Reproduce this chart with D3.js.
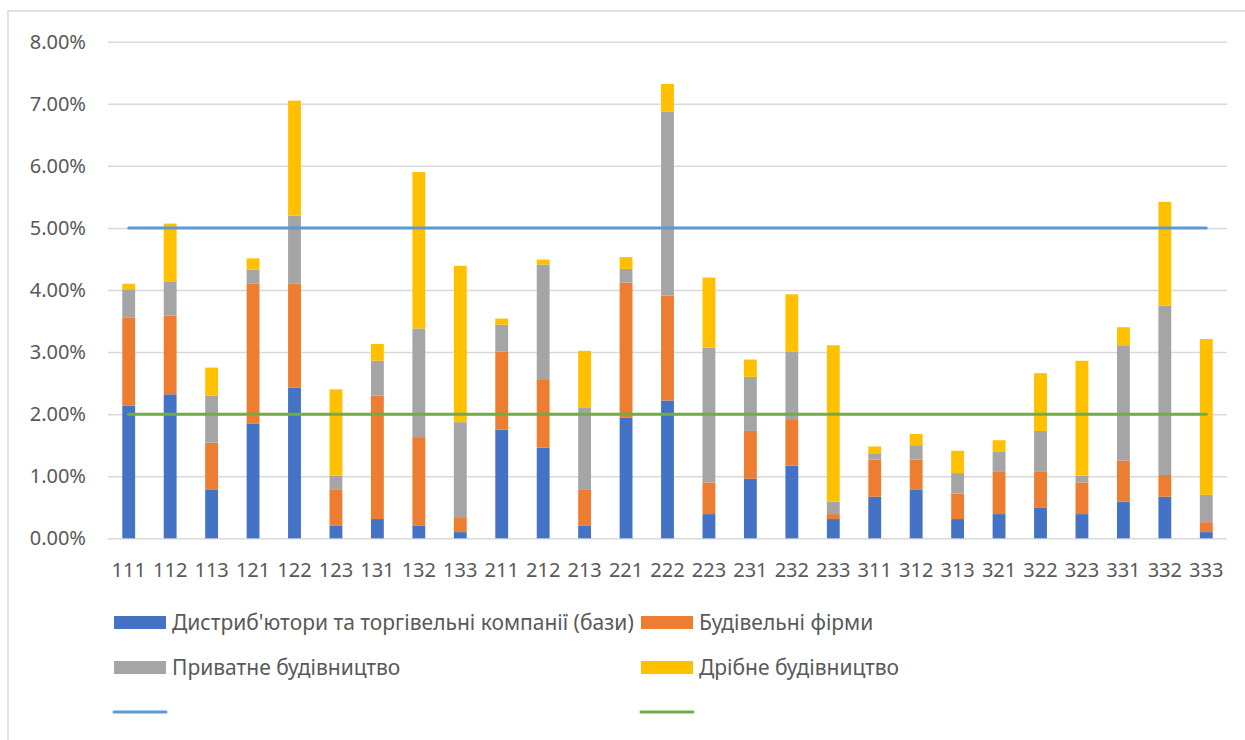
<!DOCTYPE html>
<html>
<head>
<meta charset="utf-8">
<script src="https://cdn.jsdelivr.net/npm/d3@7"></script>
<style>
  html, body { margin: 0; padding: 0; background: #fff; }
  svg { display: block; }
  text { font-family: "Noto Sans", "Liberation Sans", sans-serif; fill: #595959; }
</style>
</head>
<body>
<svg id="chart" width="1245" height="740"></svg>
<script>
// Segment codes along the horizontal axis
const categories = ["111","112","113","121","122","123","131","132","133","211","212","213","221","222","223","231","232","233","311","312","313","321","322","323","331","332","333"];

// Stacked shares, in percent
const distributors = [2.14, 2.32, 0.78, 1.85, 2.43, 0.20, 0.31, 0.20, 0.10, 1.75, 1.46, 0.20, 1.94, 2.22, 0.39, 0.96, 1.17, 0.31, 0.67, 0.78, 0.31, 0.39, 0.49, 0.39, 0.59, 0.67, 0.10];
const firms        = [1.42, 1.27, 0.76, 2.25, 1.67, 0.58, 1.99, 1.43, 0.24, 1.26, 1.09, 0.58, 2.18, 1.69, 0.51, 0.77, 0.75, 0.08, 0.60, 0.49, 0.41, 0.68, 0.58, 0.51, 0.66, 0.35, 0.16];
const privateBuild = [0.44, 0.55, 0.76, 0.23, 1.10, 0.23, 0.56, 1.75, 1.53, 0.43, 1.86, 1.32, 0.22, 2.96, 2.17, 0.87, 1.09, 0.20, 0.10, 0.23, 0.33, 0.33, 0.66, 0.11, 1.86, 2.73, 0.44];
const smallBuild   = [0.10, 0.93, 0.45, 0.18, 1.85, 1.39, 0.27, 2.52, 2.52, 0.10, 0.08, 0.92, 0.19, 0.45, 1.13, 0.28, 0.92, 2.52, 0.11, 0.18, 0.36, 0.18, 0.93, 1.85, 0.29, 1.67, 2.51];

// Horizontal threshold lines (percent)
const upperLevel = [5.0];
const lowerLevel = [2.0];

// Y axis tick values (percent)
const yTicks = [0, 1, 2, 3, 4, 5, 6, 7, 8];

const seriesNames = [
  "Дистриб'ютори та торгівельні компанії (бази)",
  "Будівельні фірми",
  "Приватне будівництво",
  "Дрібне будівництво"
];
const seriesColors = ["#4472C4", "#ED7D31", "#A5A5A5", "#FFC000"];
const seriesKeys = ["d", "f", "p", "s"];

const table = categories.map((c, i) => ({
  cat: c, d: distributors[i], f: firms[i], p: privateBuild[i], s: smallBuild[i]
}));

const svg = d3.select("#chart");

// Outer chart frame
svg.append("rect")
  .attr("x", 8).attr("y", 11)
  .attr("width", 1260).attr("height", 760)
  .attr("fill", "none").attr("stroke", "#d9d9d9").attr("stroke-width", 1.5);

const plot = { left: 108, right: 1227, top: 41.7, bottom: 538.3 };

const x = d3.scaleBand().domain(categories).range([plot.left, plot.right]).paddingInner(0).paddingOuter(0);
const y = d3.scaleLinear().domain([0, 8]).range([plot.bottom, plot.top]);

// Gridlines + Y labels
const yAxis = d3.axisLeft(y)
  .tickValues(yTicks)
  .tickFormat(d => d.toFixed(2) + "%")
  .tickSize(-(plot.right - plot.left))
  .tickPadding(22);
const gy = svg.append("g").attr("transform", `translate(${plot.left},0)`).call(yAxis);
gy.select(".domain").remove();
gy.selectAll(".tick line").attr("stroke", "#d9d9d9").attr("stroke-width", 1.5);
gy.selectAll(".tick text").attr("font-size", 20).attr("fill", "#595959")
  .style("font-family", "'Noto Sans', sans-serif");

// X labels
const xAxis = d3.axisBottom(x).tickSize(0).tickPadding(25);
const gx = svg.append("g").attr("transform", `translate(0,${plot.bottom})`).call(xAxis);
gx.select(".domain").remove();
gx.selectAll(".tick text").attr("font-size", 20).attr("fill", "#595959")
  .style("font-family", "'Noto Sans', sans-serif");

// Stacked bars
const stack = d3.stack().keys(seriesKeys);
const layers = stack(table);
const barW = x.bandwidth() * 0.31;

svg.append("g").selectAll("g")
  .data(layers)
  .join("g")
  .attr("fill", (d, i) => seriesColors[i])
  .selectAll("rect")
  .data(d => d)
  .join("rect")
  .attr("x", d => x(d.data.cat) + x.bandwidth() / 2 - barW / 2)
  .attr("width", barW)
  .attr("y", d => y(d[1]))
  .attr("height", d => y(d[0]) - y(d[1]));

// Threshold lines from first to last category centre
const xFirst = x(categories[0]) + x.bandwidth() / 2;
const xLast = x(categories[categories.length - 1]) + x.bandwidth() / 2;
const lineGen = d3.line().x(d => d[0]).y(d => y(d[1]));
[[upperLevel[0], "#5B9BD5"], [lowerLevel[0], "#70AD47"]].forEach(([v, c]) => {
  svg.append("path")
    .attr("d", lineGen([[xFirst, v], [xLast, v]]))
    .attr("fill", "none").attr("stroke", c)
    .attr("stroke-width", 3).attr("stroke-linecap", "round");
});

// Legend
const legend = svg.append("g");
const legendItems = [
  { x: 114, y: 616, i: 0 },
  { x: 641, y: 616, i: 1 },
  { x: 114, y: 661, i: 2 },
  { x: 641, y: 661, i: 3 }
];
legendItems.forEach(it => {
  legend.append("rect")
    .attr("x", it.x).attr("y", it.y).attr("width", 52).attr("height", 13)
    .attr("fill", seriesColors[it.i]);
  legend.append("text")
    .attr("x", it.x + 58).attr("y", it.y + 14)
    .attr("font-size", 21)
    .text(seriesNames[it.i]);
});
[[114, "#5B9BD5"], [641, "#70AD47"]].forEach(([lx, c]) => {
  legend.append("line")
    .attr("x1", lx).attr("x2", lx + 52).attr("y1", 712).attr("y2", 712)
    .attr("stroke", c).attr("stroke-width", 3).attr("stroke-linecap", "round");
});
</script>
</body>
</html>
